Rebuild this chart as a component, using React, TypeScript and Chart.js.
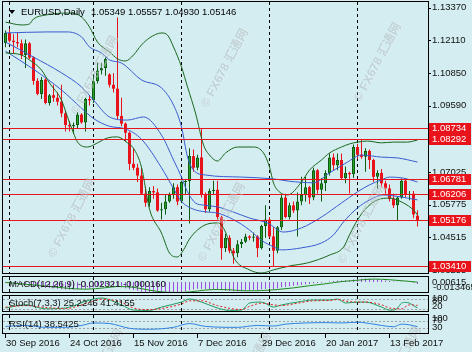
import React, { useEffect, useRef } from "react";
import { Chart, registerables } from "chart.js";

Chart.register(...registerables);

// ---------------- data ----------------
const symbolTitle = "EURUSD,Daily";
const lastBarOHLC = "1.05349 1.05557 1.04930 1.05146";

const dateTickIdx = [0, 16, 32, 48, 64, 80, 96];
const dateTickLabels = ["30 Sep 2016", "24 Oct 2016", "15 Nov 2016", "7 Dec 2016", "29 Dec 2016", "20 Jan 2017", "13 Feb 2017"];
const monthSeparatorIdx = [1, 22, 44, 66, 88];

const opens = [
  1.1200, 1.1240, 1.1210, 1.1205, 1.1200, 1.1155, 1.1200, 1.1145, 1.1055, 1.1005,
  1.1060, 1.0970, 1.1000, 1.0990, 1.0975, 1.0930, 1.0885, 1.0880, 1.0885, 1.0925,
  1.0895, 1.0985, 1.0980, 1.1055, 1.1095, 1.1105, 1.1080, 1.1040, 1.1025, 1.0920,
  1.0890, 1.0855, 1.0735, 1.0720, 1.0690, 1.0620, 1.0585, 1.0630, 1.0625, 1.0555,
  1.0560, 1.0590, 1.0615, 1.0645, 1.0590, 1.0665, 1.0668, 1.0765, 1.0720, 1.0760,
  1.0615, 1.0560, 1.0630, 1.0635, 1.0530, 1.0410, 1.0450, 1.0400, 1.0390, 1.0425,
  1.0435, 1.0455, 1.0450, 1.0455, 1.0410, 1.0495, 1.0520, 1.0455, 1.0400, 1.0490,
  1.0605, 1.0530, 1.0575, 1.0555, 1.0590, 1.0615, 1.0645, 1.0605, 1.0710, 1.0635,
  1.0660, 1.0700, 1.0760, 1.0730, 1.0750, 1.0680, 1.0700, 1.0695, 1.0800, 1.0770,
  1.0762, 1.0785, 1.0750, 1.0685, 1.0700, 1.0660, 1.0640, 1.0600, 1.0575, 1.0605,
  1.0670, 1.0615, 1.0620, 1.05349,
];
const highs = [
  1.1250, 1.1255, 1.1235, 1.1240, 1.1215, 1.1215, 1.1205, 1.1150, 1.1065, 1.1070,
  1.1065, 1.1005, 1.1040, 1.1010, 1.1040, 1.0940, 1.0900, 1.0895, 1.0935, 1.0930,
  1.0990, 1.1000, 1.1075, 1.1125, 1.1125, 1.1145, 1.1085, 1.1085, 1.1300, 1.0990,
  1.0895, 1.0860, 1.0795, 1.0735, 1.0720, 1.0645, 1.0645, 1.0650, 1.0640, 1.0585,
  1.0615, 1.0625, 1.0660, 1.0655, 1.0670, 1.0675, 1.0795, 1.0790, 1.0770, 1.08734,
  1.0625, 1.0640, 1.0670, 1.0670, 1.0535, 1.0465, 1.0460, 1.0410, 1.0440, 1.0445,
  1.0465, 1.0460, 1.0470, 1.0460, 1.0500, 1.0575, 1.0530, 1.0490, 1.0495, 1.0615,
  1.0620, 1.0585, 1.0590, 1.0625, 1.0685, 1.0685, 1.0650, 1.0720, 1.0715, 1.0680,
  1.0710, 1.0775, 1.0775, 1.0775, 1.0775, 1.0725, 1.0705, 1.0810, 1.0812, 1.08292,
  1.0795, 1.0790, 1.0755, 1.0710, 1.0715, 1.0670, 1.0655, 1.0620, 1.0610, 1.06781,
  1.0676, 1.0630, 1.0630, 1.05557,
];
const lows = [
  1.1185, 1.1203, 1.1160, 1.1185, 1.1140, 1.1105, 1.1140, 1.1040, 1.1000, 1.0985,
  1.0965, 1.0960, 1.0975, 1.0960, 1.0915, 1.0860, 1.0860, 1.0850, 1.0870, 1.0890,
  1.0860, 1.0960, 1.0970, 1.1045, 1.1080, 1.1075, 1.1030, 1.1010, 1.0905, 1.0880,
  1.0820, 1.0710, 1.0710, 1.0665, 1.0615, 1.0570, 1.0570, 1.0600, 1.0550, 1.0520,
  1.0540, 1.0585, 1.0600, 1.0575, 1.0585, 1.0615, 1.0505, 1.0705, 1.0710, 1.0605,
  1.0545, 1.0550, 1.0615, 1.0520, 1.0365, 1.0395, 1.0390, 1.0350, 1.0375, 1.0410,
  1.0430, 1.0440, 1.0435, 1.0375, 1.0405, 1.0450, 1.0450, 1.03410, 1.0390, 1.0480,
  1.0525, 1.0520, 1.0545, 1.0455, 1.0575, 1.0590, 1.0580, 1.0595, 1.0620, 1.0590,
  1.0630, 1.0690, 1.0710, 1.0710, 1.0675, 1.0660, 1.06206, 1.0680, 1.0755, 1.0755,
  1.0705, 1.0715, 1.0665, 1.0640, 1.0645, 1.0620, 1.0590, 1.0565, 1.05176, 1.0600,
  1.0605, 1.0595, 1.0525, 1.04930,
];
const closes = [
  1.1240, 1.1210, 1.1205, 1.1200, 1.1155, 1.1200, 1.1145, 1.1055, 1.1005, 1.1060,
  1.0970, 1.1000, 1.0990, 1.0975, 1.0930, 1.0885, 1.0880, 1.0885, 1.0925, 1.0895,
  1.0985, 1.0980, 1.1055, 1.1095, 1.1105, 1.1140, 1.1040, 1.1025, 1.0920, 1.0890,
  1.0855, 1.0735, 1.0720, 1.0690, 1.0620, 1.0585, 1.0630, 1.0625, 1.0555, 1.0560,
  1.0590, 1.0615, 1.0645, 1.0590, 1.0665, 1.0668, 1.0765, 1.0720, 1.0760, 1.0615,
  1.0560, 1.0630, 1.0635, 1.0530, 1.0410, 1.0450, 1.0400, 1.0390, 1.0425, 1.0435,
  1.0455, 1.0450, 1.0455, 1.0410, 1.0495, 1.0520, 1.0455, 1.0400, 1.0490, 1.0605,
  1.0530, 1.0575, 1.0555, 1.0590, 1.0615, 1.0645, 1.0605, 1.0710, 1.0635, 1.0660,
  1.0700, 1.0760, 1.0730, 1.0750, 1.0680, 1.0700, 1.0695, 1.0800, 1.0770, 1.0762,
  1.0785, 1.0750, 1.0685, 1.0700, 1.0660, 1.0640, 1.0600, 1.0575, 1.0605, 1.0670,
  1.0615, 1.0620, 1.0540, 1.05146,
];

// Bollinger-style bands: [bar index, price]
const outerUpperBand = [
  [0, 1.1282], [4, 1.1271], [6, 1.1275], [7, 1.1294], [10, 1.1309], [16, 1.1317], [19, 1.1302],
  [21, 1.1263], [23, 1.1205], [26, 1.1167], [28, 1.1140], [30, 1.1132], [32, 1.1155], [34, 1.1194],
  [36, 1.1221], [39, 1.1240], [40.5, 1.1232], [42, 1.1186], [44, 1.1109], [45.5, 1.1032],
  [47.5, 1.0931], [49.5, 1.0808], [51, 1.0769], [53, 1.0746], [55, 1.0777], [58, 1.0800],
  [62, 1.0800], [64.5, 1.0777], [66, 1.0723], [67, 1.0661], [68, 1.0634], [70.5, 1.0615],
  [74, 1.0665], [76, 1.0711], [79, 1.0750], [81, 1.0777], [84, 1.0800], [86, 1.0812],
  [88, 1.0819], [90.5, 1.0823], [94, 1.0816], [97, 1.0819], [100.5, 1.0819], [103, 1.0827],
];
const outerLowerBand = [
  [0, 1.1163], [4, 1.1155], [6, 1.1136], [9, 1.1097], [11, 1.1047], [14, 1.0981], [15.5, 1.0916],
  [17, 1.0854], [18, 1.0819], [20.5, 1.0800], [23, 1.0816], [25.5, 1.0835], [28, 1.0839],
  [30.5, 1.0816], [32, 1.0795], [34, 1.0722], [36, 1.0560], [39, 1.0468], [41, 1.0391],
  [43, 1.0376], [44.5, 1.0403], [46, 1.0445], [48, 1.0480], [50.5, 1.0503], [53, 1.0507],
  [55, 1.0472], [57, 1.0376], [61, 1.0326], [64, 1.0314], [67, 1.0326], [71, 1.0341],
  [75.5, 1.0353], [81, 1.0383], [84.5, 1.0414], [86, 1.0461], [88, 1.0519], [90.5, 1.0569],
  [93, 1.0596], [96, 1.0603], [99.5, 1.0584], [102, 1.0557], [103, 1.0538],
];
const innerUpperBand = [
  [0, 1.1240], [10.5, 1.1244], [15.5, 1.1244], [19, 1.1225], [21, 1.1186], [24, 1.1163],
  [26, 1.1136], [29, 1.1124], [34, 1.1059], [39, 1.1028], [42, 1.0962], [44, 1.0877],
  [45.5, 1.0762], [47, 1.0711], [50, 1.0692], [59, 1.0684], [67, 1.0677], [71, 1.0668],
  [77, 1.0662], [81, 1.0700], [85.5, 1.0742], [89, 1.0769], [94, 1.0761], [98, 1.0758], [103, 1.0742],
];
const innerMiddleBand = [
  [0, 1.1205], [7, 1.1147], [14, 1.1086], [19, 1.1032], [22, 1.0981], [26, 1.0916],
  [30.5, 1.0904], [34.5, 1.0916], [39, 1.0846], [42, 1.0750], [44, 1.0684], [45.5, 1.0627],
  [47.5, 1.0584], [49.5, 1.0576], [53, 1.0569], [57, 1.0549], [61, 1.0526], [65.5, 1.0507],
  [69.5, 1.0472], [74, 1.0488], [79, 1.0530], [84, 1.0584], [88, 1.0627], [91, 1.0654],
  [94, 1.0673], [96, 1.0684], [99.5, 1.0680], [103, 1.0665],
];
const innerLowerBand = [
  [0, 1.1170], [7, 1.1100], [14, 1.1020], [19, 1.0950], [22, 1.0910], [26, 1.0880], [30, 1.0870],
  [34, 1.0830], [39, 1.0720], [42, 1.0640], [44, 1.0590], [47, 1.0560], [50, 1.0550], [53, 1.0545],
  [57, 1.0520], [61, 1.0480], [64, 1.0440], [67, 1.0415], [69, 1.0403], [74, 1.0411], [79, 1.0430],
  [82, 1.0461], [84.5, 1.0511], [88, 1.0565], [91, 1.0596], [94.5, 1.0615], [99, 1.0607], [103, 1.0596],
];

const levelPrices = [1.08734, 1.08292, 1.06781, 1.06206, 1.05176, 1.03410];
const priceTickLabels = ["1.13370", "1.12110", "1.10850", "1.09590", "1.08330", "1.07025", "1.05775", "1.04515", "1.03255"];

const macdHistogram = [
  -0.0010, -0.0015, -0.0020, -0.0025, -0.0030, -0.0035, -0.0045, -0.0055, -0.0060, -0.0068, -0.0072,
  -0.0074, -0.0077, -0.0082, -0.0088, -0.0092, -0.0095, -0.0093, -0.0090, -0.0085, -0.0082, -0.0078,
  -0.0068, -0.0058, -0.0048, -0.0040, -0.0042, -0.0045, -0.0055, -0.0065, -0.0075, -0.0088, -0.0098,
  -0.0108, -0.0118, -0.0125, -0.0128, -0.0130, -0.0133, -0.0134, -0.0133, -0.0130, -0.0126, -0.0124,
  -0.0118, -0.0112, -0.0100, -0.0092, -0.0084, -0.0086, -0.0092, -0.0090, -0.0088, -0.0092, -0.0100,
  -0.0106, -0.0110, -0.0114, -0.0116, -0.0114, -0.0110, -0.0106, -0.0102, -0.0100, -0.0092, -0.0086,
  -0.0084, -0.0086, -0.0078, -0.0064, -0.0058, -0.0052, -0.0046, -0.0040, -0.0034, -0.0028, -0.0024,
  -0.0016, -0.0012, -0.0008, -0.0002, 0.0006, 0.0012, 0.0018, 0.0018, 0.0020, 0.0020, 0.0030,
  0.0036, 0.0040, 0.0042, 0.0040, 0.0034, 0.0030, 0.0024, 0.0018, 0.0012, 0.0006, 0.0004, 0.0006,
  0.0004, 0.0001, -0.0010, -0.0023,
];
const macdSignal = [
  [0, -0.0005], [10, -0.0050], [20, -0.0088], [25, -0.0070], [28, -0.0055], [32, -0.0065],
  [36, -0.0100], [40, -0.0125], [44, -0.0128], [48, -0.0110], [52, -0.0092], [56, -0.0095],
  [60, -0.0108], [64, -0.0105], [68, -0.0092], [72, -0.0072], [76, -0.0045], [80, -0.0022],
  [84, 0.0005], [88, 0.0022], [92, 0.0036], [96, 0.0028], [100, 0.0012], [103, -0.00016],
];
const macdRange = [-0.013465, 0.00615];

const stochMain = [
  [0, 25], [5, 45], [10, 20], [15, 25], [21, 75], [24, 87], [29, 44], [32, 12], [36, 10], [39, 31],
  [44, 62], [46, 81], [49, 62], [53, 25], [56, 10], [59, 12], [61, 56], [64, 62], [67, 31],
  [69, 44], [73, 62], [77, 75], [81, 75], [83, 81], [85, 56], [88, 62], [90, 62], [94, 31],
  [96, 12], [97, 12], [98, 25], [99, 55], [100, 60], [101, 55], [102, 40], [103, 25.2245],
];
const stochSignal = [
  [0, 30], [5, 40], [10, 28], [15, 22], [21, 60], [24, 80], [29, 60], [32, 25], [36, 15], [39, 22],
  [44, 50], [46, 70], [49, 70], [53, 40], [59, 15], [61, 35], [64, 55], [67, 45], [69, 40],
  [73, 55], [77, 70], [81, 72], [83, 78], [85, 68], [88, 62], [90, 62], [94, 45], [96, 25],
  [99, 20], [101, 45], [103, 41.4155],
];
const stochLevels = [20, 80];

const rsiLine = [
  [0, 40], [5, 45], [10, 35], [15, 35], [19, 45], [22, 58], [26, 55], [31, 30], [36, 25],
  [42, 35], [46, 55], [50, 40], [58, 35], [63, 45], [67, 42], [70, 52], [75, 58], [80, 60],
  [84, 58], [88, 62], [92, 52], [94, 45], [97, 38], [99, 52], [101, 48], [103, 38.5425],
];
const rsiLevels = [30, 70];

// ---------------- styling ----------------
const W = 472;
const H = 352;
const BG = "#D4EDF0";
const PLOT_L = 3;
const PLOT_R = 428;
const X_MIN = -0.625;
const X_MAX = 105.625;
const FONT = '"Liberation Sans", Arial, sans-serif';
const BULL_FILL = "#25A325";
const BULL_EDGE = "#0E5C12";
const BEAR = "#E8131B";
const BAND_GREEN = "#1A661C";
const BAND_BLUE = "#3A5AD0";
const LEVEL_RED = "#E8131B";

const pts = (arr: number[][]) => arr.map(([x, y]) => ({ x, y }));

function lineDs(data: number[][], color: string, extra: any = {}) {
  return {
    type: "line",
    data: pts(data),
    borderColor: color,
    borderWidth: 1,
    pointRadius: 0,
    fill: false,
    cubicInterpolationMode: "monotone",
    order: 0,
    ...extra,
  };
}

function baseOptions(yMin: number, yMax: number, padTop: number, padBottom: number) {
  return {
    responsive: false,
    animation: false,
    devicePixelRatio: 1,
    events: [],
    layout: { padding: { left: PLOT_L, right: W - PLOT_R, top: padTop, bottom: padBottom } },
    plugins: { legend: { display: false }, tooltip: { enabled: false }, title: { display: false } },
    scales: {
      x: { type: "linear", min: X_MIN, max: X_MAX, offset: false, display: false },
      y: { type: "linear", min: yMin, max: yMax, display: false },
    },
  };
}

function drawSeparators(chart: any) {
  const { ctx, chartArea: a, scales } = chart;
  ctx.save();
  ctx.strokeStyle = "#000";
  ctx.lineWidth = 1;
  ctx.setLineDash([3, 3]);
  for (const i of monthSeparatorIdx) {
    const x = Math.round(scales.x.getPixelForValue(i) - 0.5) + 0.5;
    ctx.beginPath();
    ctx.moveTo(x, a.top);
    ctx.lineTo(x, a.bottom);
    ctx.stroke();
  }
  ctx.restore();
}

function drawFrame(chart: any) {
  const { ctx, chartArea: a } = chart;
  ctx.save();
  ctx.strokeStyle = "#000";
  ctx.lineWidth = 1;
  ctx.strokeRect(2.5, a.top - 0.5, PLOT_R - 2, a.bottom - a.top);
  ctx.restore();
}

function drawLevels(chart: any, levels: number[]) {
  const { ctx, chartArea: a, scales } = chart;
  ctx.save();
  ctx.strokeStyle = "#A0A6A8";
  ctx.lineWidth = 1;
  ctx.setLineDash([2, 2]);
  for (const v of levels) {
    const y = Math.round(scales.y.getPixelForValue(v)) + 0.5;
    ctx.beginPath();
    ctx.moveTo(a.left, y);
    ctx.lineTo(a.right, y);
    ctx.stroke();
  }
  ctx.restore();
}

function text(ctx: any, s: string, x: number, y: number, color = "#111", size = 9.5, align = "left") {
  ctx.save();
  ctx.font = `${size}px ${FONT}`;
  ctx.fillStyle = color;
  ctx.textAlign = align;
  ctx.textBaseline = "middle";
  ctx.fillText(s, x, y);
  ctx.restore();
}

const watermarkSpots = [
  [95, 75], [225, 68], [378, 62], [72, 218], [222, 222], [362, 224], [100, 368], [248, 372], [398, 366],
];

function drawWatermarks(ctx: any) {
  ctx.save();
  ctx.font = `bold 12px ${FONT}, "Noto Sans CJK SC"`;
  ctx.textAlign = "center";
  ctx.textBaseline = "middle";
  for (const [x, y] of watermarkSpots) {
    ctx.save();
    ctx.translate(x, y);
    ctx.rotate((-62 * Math.PI) / 180);
    ctx.fillStyle = "rgba(255,255,255,0.35)";
    ctx.fillText("© FX678 汇通网", 0.8, 0.8);
    ctx.fillStyle = "rgba(140,155,160,0.35)";
    ctx.fillText("© FX678 汇通网", 0, 0);
    ctx.restore();
  }
  ctx.restore();
}

const mainPlugin = {
  id: "mainDecor",
  beforeDatasetsDraw(chart: any) {
    drawSeparators(chart);
  },
  afterDatasetsDraw(chart: any) {
    const { ctx, chartArea: a, scales } = chart;
    ctx.save();
    ctx.strokeStyle = LEVEL_RED;
    ctx.lineWidth = 1;
    for (const v of levelPrices) {
      const y = Math.round(scales.y.getPixelForValue(v)) + 0.5;
      ctx.beginPath();
      ctx.moveTo(a.left, y);
      ctx.lineTo(a.right, y);
      ctx.stroke();
    }
    ctx.restore();
  },
  afterDraw(chart: any) {
    const { ctx, scales } = chart;
    drawFrame(chart);
    // price axis
    ctx.save();
    ctx.strokeStyle = "#000";
    for (const lbl of priceTickLabels) {
      const y = scales.y.getPixelForValue(parseFloat(lbl));
      ctx.beginPath();
      ctx.moveTo(PLOT_R, Math.round(y) + 0.5);
      ctx.lineTo(PLOT_R + 3, Math.round(y) + 0.5);
      ctx.stroke();
      text(ctx, lbl, 432, y);
    }
    ctx.restore();
    for (const v of levelPrices) {
      const y = Math.round(scales.y.getPixelForValue(v));
      ctx.fillStyle = LEVEL_RED;
      ctx.fillRect(429, y - 5, 42, 11);
      text(ctx, v.toFixed(5), 432, y + 0.5, "#fff");
    }
    // title
    ctx.fillStyle = "#000";
    ctx.beginPath();
    ctx.moveTo(9, 10);
    ctx.lineTo(15, 10);
    ctx.lineTo(12, 14);
    ctx.closePath();
    ctx.fill();
    text(ctx, symbolTitle, 21, 12.5, "#000");
    text(ctx, lastBarOHLC, 91, 12.5, "#000");
    drawWatermarks(ctx);
  },
};

function subPlugin(id: string, label: string, levels: number[], axisTexts: any[], withDates = false) {
  return {
    id,
    beforeDatasetsDraw(chart: any) {
      drawLevels(chart, levels);
      drawSeparators(chart);
    },
    afterDraw(chart: any) {
      const { ctx, chartArea: a, scales } = chart;
      drawFrame(chart);
      text(ctx, label, 9, (a.top + a.bottom) / 2 - 0.5, "#111");
      for (const [s, x, y] of axisTexts) text(ctx, s, x, y, "#111");
      if (withDates) {
        ctx.save();
        ctx.strokeStyle = "#000";
        dateTickIdx.forEach((i, k) => {
          const x = Math.round(scales.x.getPixelForValue(i) - 0.5) + 0.5;
          ctx.beginPath();
          ctx.moveTo(x, a.bottom);
          ctx.lineTo(x, a.bottom + 4);
          ctx.stroke();
          text(ctx, dateTickLabels[k], x + 0.5, 343, "#111");
        });
        ctx.restore();
      }
    },
  };
}

function mainConfig(): any {
  const up = (i: number) => closes[i] >= opens[i];
  return {
    type: "bar",
    data: {
      datasets: [
        lineDs(outerUpperBand, BAND_GREEN),
        lineDs(outerLowerBand, BAND_GREEN),
        lineDs(innerUpperBand, BAND_BLUE),
        lineDs(innerMiddleBand, BAND_BLUE),
        lineDs(innerLowerBand, BAND_BLUE),
        {
          type: "bar",
          data: lows.map((l, i) => ({ x: i, y: [l, highs[i]] })),
          barThickness: 1,
          grouped: false,
          inflateAmount: 0,
          borderWidth: 0,
          backgroundColor: (c: any) => (up(c.dataIndex) ? BULL_EDGE : BEAR),
          order: 2,
        },
        {
          type: "bar",
          data: opens.map((o, i) => ({ x: i, y: [o, closes[i]] })),
          barThickness: 3,
          grouped: false,
          inflateAmount: 0,
          minBarLength: 1,
          borderSkipped: false,
          borderWidth: (c: any) => (up(c.dataIndex) ? 1 : 0),
          borderColor: (c: any) => (up(c.dataIndex) ? BULL_EDGE : BEAR),
          backgroundColor: (c: any) => (up(c.dataIndex) ? BULL_FILL : BEAR),
          order: 1,
        },
      ],
    },
    options: baseOptions(1.03101, 1.13595, 2, H - 274),
    plugins: [mainPlugin],
  };
}

function macdConfig(): any {
  return {
    type: "bar",
    data: {
      datasets: [
        lineDs(macdSignal, "#1F8A1F"),
        {
          type: "bar",
          data: macdHistogram.map((v, i) => ({ x: i, y: v })),
          barThickness: 1,
          grouped: false,
          inflateAmount: 0,
          borderWidth: 0,
          backgroundColor: "#9C4FD8",
          order: 1,
        },
      ],
    },
    options: baseOptions(macdRange[0], macdRange[1], 277, H - 293),
    plugins: [
      subPlugin("macdDecor", "MACD(12,26,9) -0.002321 -0.000160", [], [
        ["0.00615", 432, 282.5],
        ["-0.013465", 433, 287.5],
      ]),
    ],
  };
}

function stochConfig(): any {
  return {
    type: "line",
    data: {
      datasets: [
        lineDs(stochSignal, "#E02020", { borderDash: [2, 2] }),
        lineDs(stochMain, "#1E9A5E"),
      ],
    },
    options: baseOptions(0, 100, 296, H - 312),
    plugins: [
      subPlugin("stochDecor", "Stoch(7,3,3) 25.2245 41.4155", stochLevels, [
        ["100", 432, 298],
        ["80", 432, 300.5],
        ["20", 432, 306],
      ]),
    ],
  };
}

function rsiConfig(): any {
  return {
    type: "line",
    data: { datasets: [lineDs(rsiLine, "#2F7FE0")] },
    options: baseOptions(0, 100, 315, H - 334),
    plugins: [
      subPlugin("rsiDecor", "RSI(14) 38.5425", rsiLevels, [
        ["100", 432, 318],
        ["70", 432, 320.5],
        ["30", 432, 327],
      ], true),
    ],
  };
}

export default function App() {
  const r1 = useRef<HTMLCanvasElement>(null);
  const r2 = useRef<HTMLCanvasElement>(null);
  const r3 = useRef<HTMLCanvasElement>(null);
  const r4 = useRef<HTMLCanvasElement>(null);

  useEffect(() => {
    const charts = [
      new Chart(r1.current as any, mainConfig()),
      new Chart(r2.current as any, macdConfig()),
      new Chart(r3.current as any, stochConfig()),
      new Chart(r4.current as any, rsiConfig()),
    ];
    return () => charts.forEach((c) => c.destroy());
  }, []);

  const cs: any = { position: "absolute", left: 0, top: 0, width: W, height: H };
  return (
    <div style={{ position: "fixed", left: 0, top: 0, width: W, height: H, background: BG, overflow: "hidden" }}>
      <canvas ref={r1} width={W} height={H} style={cs} />
      <canvas ref={r2} width={W} height={H} style={cs} />
      <canvas ref={r3} width={W} height={H} style={cs} />
      <canvas ref={r4} width={W} height={H} style={cs} />
    </div>
  );
}
